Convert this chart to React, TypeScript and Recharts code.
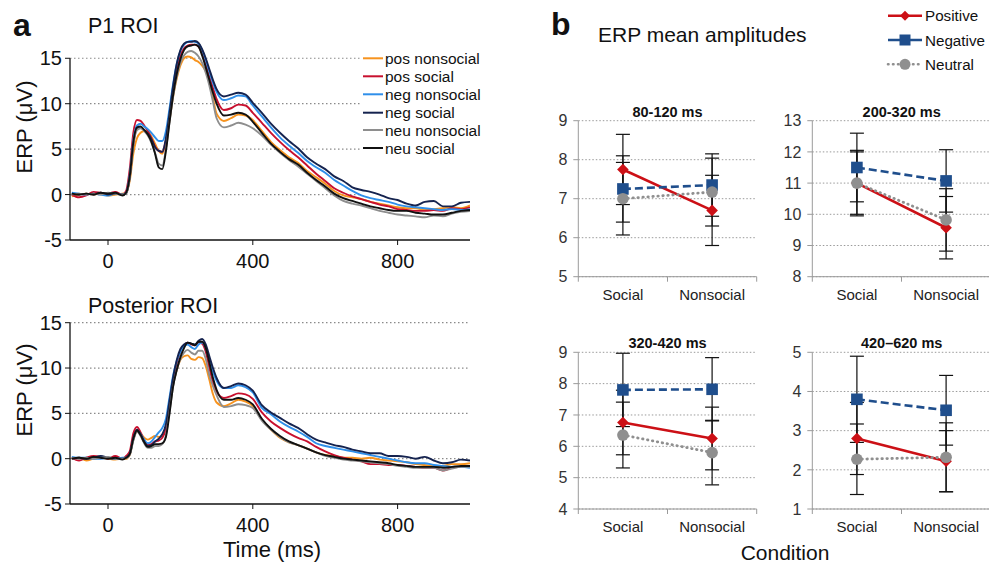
import React from 'react';
import { LineChart, Line, XAxis, YAxis, CartesianGrid, ReferenceLine, ErrorBar } from 'recharts';

const FONT = '"Liberation Sans", Arial, Helvetica, sans-serif';

// ---------------- Panel a: ERP waveforms ----------------
const times = [-100, -80, -60, -40, -20, 0, 20, 40, 50, 60, 70, 80, 90, 100, 110, 120, 130, 140, 150, 160, 170, 180, 190, 200, 210, 220, 230, 240, 250, 260, 270, 280, 290, 300, 320, 340, 360, 380, 400, 425, 450, 475, 500, 525, 550, 575, 600, 625, 650, 675, 700, 725, 750, 775, 800, 825, 850, 875, 900, 925, 950, 975, 1000];

// P1 ROI
const p1PosNonsocial = [-0.2, 0.0, 0.1, 0.0, 0.1, -0.1, 0.0, 0.1, 0.2,
  1.5, 4.5, 6.2, 6.8, 7.0, 6.9, 6.4, 5.6, 4.8, 4.5, 5.8, 8.2, 10.8, 12.8, 14.2, 15.0, 15.2, 15.1, 14.8, 14.6, 14.2, 13.6, 12.6, 10.6, 8.9,
  8.1, 8.4, 8.8, 8.7, 8.2,
  7.0, 5.8, 4.9, 4.1, 3.5, 2.6, 1.9, 1.2, 0.4, -0.1, -0.3, -0.5, -0.8, -1.0, -1.2, -1.4, -1.5, -1.5, -1.7, -1.6, -1.5, -1.4, -1.5, -1.2];
const p1PosSocial = [0.0, -0.3, -0.1, 0.3, 0.2, 0.1, 0.3, 0.0, 0.4,
  2.8, 6.8, 8.2, 8.1, 7.6, 7.0, 6.2, 5.3, 4.8, 4.7, 6.0, 8.6, 11.4, 13.8, 15.3, 16.1, 16.4, 16.5, 16.5, 16.3, 15.5, 14.3, 13.0, 11.7, 10.5,
  9.3, 9.5, 9.9, 9.8, 9.0,
  7.9, 6.8, 5.8, 4.9, 4.1, 3.2, 2.3, 1.5, 0.7, 0.2, -0.2, -0.5, -0.8, -1.1, -1.3, -1.6, -1.7, -1.8, -1.8, -1.7, -1.8, -1.5, -1.6, -1.4];
const p1NegNonsocial = [0.2, 0.1, 0.0, 0.1, 0.0, -0.1, 0.1, 0.0, 0.2,
  2.2, 6.0, 7.6, 7.8, 7.5, 7.2, 6.8, 6.3, 5.9, 5.9, 7.0, 9.5, 12.2, 14.4, 15.8, 16.5, 16.8, 16.9, 16.8, 16.6, 15.9, 14.8, 13.5, 12.3, 11.3,
  10.4, 10.6, 10.9, 10.8, 9.8,
  8.6, 7.4, 6.3, 5.4, 4.6, 3.7, 3.0, 2.4, 1.6, 1.0, 0.4, -0.1, -0.4, -0.6, -0.8, -1.1, -1.3, -1.4, -1.5, -1.6, -1.7, -1.6, -1.7, -1.6];
const p1NegSocial = [0.1, 0.0, 0.1, 0.0, 0.2, 0.0, 0.1, 0.0, 0.1,
  1.8, 5.5, 7.3, 7.4, 7.1, 6.7, 6.1, 5.2, 4.8, 4.7, 6.2, 9.0, 12.0, 14.4, 15.9, 16.6, 16.8, 16.8, 16.9, 16.7, 16.0, 15.0, 13.8, 12.6, 11.6,
  10.8, 11.0, 11.2, 11.0, 10.1,
  9.0, 7.8, 6.8, 5.9, 5.1, 4.1, 3.4, 2.8, 2.0, 1.5, 0.8, 0.5, 0.3, 0.0, -0.4, -0.6, -1.0, -1.2, -0.8, -0.7, -1.3, -1.3, -0.9, -0.8];
const p1NeuNonsocial = [0.0, 0.1, 0.0, 0.1, 0.0, 0.2, 0.1, 0.0, 0.1,
  1.8, 5.5, 7.1, 7.3, 7.0, 6.5, 5.7, 4.6, 3.4, 3.2, 5.0, 8.0, 10.8, 13.0, 14.5, 15.3, 15.7, 15.8, 15.6, 15.2, 14.5, 13.4, 12.0, 10.2, 8.4,
  7.4, 7.6, 7.9, 7.7, 7.3,
  6.5, 5.5, 4.6, 3.8, 3.1, 2.3, 1.5, 0.7, -0.1, -0.7, -1.0, -1.2, -1.5, -1.8, -2.0, -2.2, -2.3, -2.4, -2.5, -2.3, -2.4, -2.1, -1.9, -1.8];
const p1NeuSocial = [0.1, 0.0, 0.1, 0.0, 0.2, 0.1, 0.2, -0.1, 0.2,
  2.0, 5.8, 7.4, 7.5, 7.1, 6.6, 5.8, 4.5, 3.0, 2.8, 4.8, 8.0, 11.0, 13.3, 14.9, 15.9, 16.3, 16.4, 16.5, 16.3, 15.3, 14.0, 12.6, 11.2, 10.0,
  8.7, 8.8, 9.0, 8.8, 8.0,
  6.8, 5.6, 4.7, 3.9, 3.3, 2.4, 1.6, 0.9, 0.1, -0.4, -0.7, -1.0, -1.3, -1.5, -1.7, -1.8, -1.8, -2.0, -2.1, -2.2, -2.2, -2.0, -1.8, -1.7];

// Posterior ROI
const postPosNonsocial = [0.0, 0.1, -0.2, 0.0, 0.1, 0.0, -0.1, 0.0, 0.0,
  0.4, 2.1, 3.0, 2.8, 2.3, 2.1, 2.3, 2.5, 2.4, 2.6, 3.4, 5.6, 8.2, 9.8, 10.9, 11.3, 11.4, 11.0, 10.9, 11.2, 11.1, 10.2, 8.7, 7.1, 6.2,
  5.8, 6.1, 6.5, 6.3, 5.8,
  4.3, 3.2, 2.3, 1.8, 1.5, 1.1, 0.7, 0.4, 0.3, 0.1, 0.1, 0.0, 0.1, -0.1, -0.2, -0.3, -0.4, -0.6, -0.7, -0.8, -0.8, -0.6, -0.6, -0.5];
const postPosSocial = [0.1, -0.2, 0.1, 0.3, 0.2, 0.0, 0.3, 0.0, 0.3,
  0.8, 2.8, 3.5, 2.9, 2.0, 1.5, 1.6, 1.9, 2.0, 2.3, 3.3, 5.8, 8.6, 10.6, 11.8, 12.5, 12.8, 12.6, 12.5, 12.8, 12.7, 11.8, 10.0, 8.4, 7.4,
  6.7, 6.9, 7.2, 7.1, 6.6,
  5.1, 4.1, 3.4, 2.8, 2.3, 1.9, 1.3, 0.8, 0.4, 0.1, -0.1, -0.3, -0.6, -0.6, -0.7, -0.7, -0.8, -0.9, -1.0, -1.0, -1.3, -1.0, -0.9, -0.8];
const postNegNonsocial = [0.2, 0.1, 0.1, 0.0, 0.0, 0.1, 0.0, 0.1, 0.1,
  0.5, 2.1, 3.1, 2.7, 2.1, 1.7, 1.9, 2.4, 2.9, 3.4, 4.4, 6.8, 9.2, 10.8, 11.8, 12.4, 12.6, 12.3, 12.1, 12.6, 12.8, 12.2, 10.9, 9.6, 8.6,
  7.8, 7.8, 8.1, 7.9, 7.3,
  5.6, 4.9, 4.1, 3.5, 3.0, 2.4, 1.7, 1.4, 1.2, 1.0, 0.8, 0.6, 0.4, 0.2, 0.0, -0.2, -0.4, -0.5, -0.5, -0.7, -0.8, -0.9, -0.9, -1.0];
const postNegSocial = [0.0, 0.1, 0.0, 0.1, 0.3, 0.1, 0.0, 0.0, 0.1,
  0.5, 2.3, 3.2, 2.7, 1.9, 1.4, 1.5, 1.9, 2.2, 2.7, 3.8, 6.4, 9.0, 10.9, 12.1, 12.6, 12.8, 12.7, 12.6, 13.0, 13.2, 12.6, 11.3, 10.0, 8.9,
  7.8, 8.0, 8.3, 8.1, 7.5,
  5.9, 5.1, 4.5, 3.9, 3.4, 2.7, 2.1, 1.8, 1.5, 1.3, 1.0, 0.8, 0.6, 0.6, 0.3, 0.3, 0.2, 0.0, 0.2, -0.2, -0.5, -0.4, -0.1, -0.2];
const postNeuNonsocial = [0.1, 0.0, 0.1, 0.0, 0.1, 0.2, 0.0, 0.0, 0.1,
  0.4, 2.0, 3.0, 2.5, 1.7, 1.2, 1.2, 1.4, 1.4, 1.6, 2.6, 5.2, 8.0, 9.8, 11.0, 11.7, 12.0, 11.7, 11.5, 11.9, 11.9, 11.0, 9.2, 8.0, 7.0,
  5.7, 5.8, 6.0, 5.9, 5.6,
  4.2, 3.2, 2.4, 1.8, 1.5, 1.1, 0.7, 0.3, 0.1, -0.1, -0.2, -0.3, -0.4, -0.5, -0.6, -0.8, -0.9, -1.0, -1.0, -1.0, -1.3, -1.1, -0.9, -0.9];
const postNeuSocial = [0.0, 0.1, 0.0, 0.2, 0.1, 0.0, 0.1, -0.1, 0.1,
  0.5, 2.2, 3.1, 2.6, 1.8, 1.3, 1.4, 1.6, 1.6, 1.7, 2.4, 5.0, 8.0, 9.8, 11.2, 12.2, 12.8, 12.7, 12.5, 12.9, 12.9, 12.2, 10.6, 8.9, 7.6,
  6.5, 6.5, 6.7, 6.5, 6.0,
  4.4, 3.3, 2.5, 1.9, 1.5, 1.1, 0.7, 0.4, 0.2, 0.0, -0.1, -0.2, -0.3, -0.4, -0.5, -0.7, -0.8, -0.9, -0.9, -0.9, -1.0, -0.9, -0.8, -0.8];

const erpTicksX = [0, 400, 800];
const erpTicksY = [-5, 0, 5, 10, 15];
const erpGridY = [0, 5, 10, 15];

const SERIES = [
  { key: 'posNon', name: 'pos nonsocial', color: '#F7931E' },
  { key: 'posSoc', name: 'pos social', color: '#C8102E' },
  { key: 'negNon', name: 'neg nonsocial', color: '#2F8FEA' },
  { key: 'negSoc', name: 'neg social', color: '#15234F' },
  { key: 'neuNon', name: 'neu nonsocial', color: '#8E8E8E' },
  { key: 'neuSoc', name: 'neu social', color: '#111111' },
];

const p1Rows = times.map((t, i) => ({
  t,
  posNon: p1PosNonsocial[i], posSoc: p1PosSocial[i],
  negNon: p1NegNonsocial[i], negSoc: p1NegSocial[i],
  neuNon: p1NeuNonsocial[i], neuSoc: p1NeuSocial[i],
}));
const postRows = times.map((t, i) => ({
  t,
  posNon: postPosNonsocial[i], posSoc: postPosSocial[i],
  negNon: postNegNonsocial[i], negSoc: postNegSocial[i],
  neuNon: postNeuNonsocial[i], neuSoc: postNeuSocial[i],
}));

// ---------------- Panel b: mean amplitudes ----------------
const conditions = ['Social', 'Nonsocial'];

const w1Positive = [7.75, 6.7];   const w1PositiveErr = [0.9, 0.9];
const w1Negative = [7.25, 7.35];  const w1NegativeErr = [0.85, 0.8];
const w1Neutral = [7.0, 7.17];    const w1NeutralErr = [0.93, 0.87];

const w2Positive = [11.0, 9.57];  const w2PositiveErr = [1.05, 1.0];
const w2Negative = [11.5, 11.07]; const w2NegativeErr = [1.1, 1.0];
const w2Neutral = [11.0, 9.82];   const w2NeutralErr = [1.0, 1.0];

const w3Positive = [6.76, 6.25];  const w3PositiveErr = [1.03, 1.0];
const w3Negative = [7.8, 7.82];   const w3NegativeErr = [1.17, 1.01];
const w3Neutral = [6.36, 5.8];    const w3NeutralErr = [1.05, 1.03];

const w4Positive = [2.8, 2.22];   const w4PositiveErr = [0.92, 0.78];
const w4Negative = [3.8, 3.52];   const w4NegativeErr = [1.1, 0.89];
const w4Neutral = [2.27, 2.32];   const w4NeutralErr = [0.9, 0.88];

const POS_COLOR = '#CC1016';
const NEG_COLOR = '#1F4E8C';
const NEU_COLOR = '#8F8F8F';
const AMP_AXIS = '#9a9a9a';
const AMP_PLOT_W = 178.4;
const AMP_BAND = AMP_PLOT_W / conditions.length;

// ---------------- components ----------------
const X_MIN = -105;

function ErpPanel({ rows, yMax, gridEnd, height, marginTop, marginBottom }: any) {
  return (
    <LineChart width={480} height={height} data={rows}
      margin={{ top: marginTop, right: 10, bottom: marginBottom, left: 0 }}>
      <XAxis dataKey="t" type="number" domain={[X_MIN, 1000]} ticks={erpTicksX}
        axisLine={{ stroke: '#111', strokeWidth: 1.3 }} tickLine={{ stroke: '#111' }}
        tickSize={5} tickMargin={9} height={30}
        tick={{ fill: '#111', fontSize: 20 }} allowDataOverflow />
      <YAxis type="number" domain={[-5, yMax]} ticks={erpTicksY} axisLine={false}
        tickLine={{ stroke: '#111' }} tickSize={5} tickMargin={3} width={70}
        tick={{ fill: '#111', fontSize: 20 }} allowDataOverflow />
      {erpGridY.map((v) => (
        <ReferenceLine key={'g' + v} segment={[{ x: X_MIN, y: v }, { x: gridEnd, y: v }]}
          stroke="#8a8a8a" strokeDasharray="1.5 2.5" strokeWidth={1.2} />
      ))}
      <ReferenceLine segment={[{ x: X_MIN, y: -5 }, { x: X_MIN, y: 15 }]} stroke="#111" strokeWidth={1.3} />
      {SERIES.map((s) => (
        <Line key={s.key} dataKey={s.key} name={s.name} stroke={s.color} strokeWidth={1.9}
          dot={false} activeDot={false} type="monotone" isAnimationActive={false} />
      ))}
    </LineChart>
  );
}

const diamondDot = (props: any) => {
  const { cx, cy, index } = props;
  const r = 5.8;
  if (cx == null || cy == null) return <g key={'dd' + index} />;
  return <path key={'dd' + index} d={`M${cx},${cy - r}L${cx + r},${cy}L${cx},${cy + r}L${cx - r},${cy}Z`} fill={POS_COLOR} />;
};
const squareDot = (props: any) => {
  const { cx, cy, index } = props;
  const h = 5.8;
  if (cx == null || cy == null) return <g key={'sq' + index} />;
  return <rect key={'sq' + index} x={cx - h} y={cy - h} width={2 * h} height={2 * h} fill={NEG_COLOR} />;
};
const circleDot = (props: any) => {
  const { cx, cy, index } = props;
  if (cx == null || cy == null) return <g key={'ci' + index} />;
  return <circle key={'ci' + index} cx={cx} cy={cy} r={5.8} fill={NEU_COLOR} />;
};

const CondTick = (props: any) => {
  const { x, y, payload, index } = props;
  const half = AMP_BAND / 2;
  return (
    <g>
      <line x1={x - half} y1={y} x2={x - half} y2={y + 5} stroke={AMP_AXIS} />
      {index === conditions.length - 1 && <line x1={x + half} y1={y} x2={x + half} y2={y + 5} stroke={AMP_AXIS} />}
      <text x={x} y={y + 12.5} dy="0.71em" textAnchor="middle" fill="#222" fontSize={15}>{payload.value}</text>
    </g>
  );
};

function AmpPanel({ domain, ticks, pos, posErr, neg, negErr, neu, neuErr, marginTop, marginBottom }: any) {
  const rows = conditions.map((c, i) => ({
    cond: c, pos: pos[i], posErr: posErr[i], neg: neg[i], negErr: negErr[i], neu: neu[i], neuErr: neuErr[i],
  }));
  return (
    <LineChart width={230} height={210} data={rows}
      margin={{ top: marginTop, right: 230 - 38.3 - AMP_PLOT_W, bottom: marginBottom, left: 0 }}>
      <CartesianGrid vertical={false} stroke="#9a9a9a" strokeDasharray="1.5 2" />
      <XAxis dataKey="cond" type="category" scale="band" axisLine={{ stroke: AMP_AXIS }} tickLine={false}
        tickSize={0} tickMargin={0} height={25} interval={0}
        tick={(p: any) => <CondTick {...p} />} />
      <YAxis type="number" domain={domain} ticks={ticks} axisLine={{ stroke: AMP_AXIS }}
        tickLine={{ stroke: AMP_AXIS }} tickSize={5} tickMargin={6} width={38.3}
        tick={{ fill: '#333', fontSize: 16 }} />
      <Line dataKey="pos" stroke={POS_COLOR} strokeWidth={2.6} dot={diamondDot} activeDot={false} isAnimationActive={false}>
        <ErrorBar dataKey="posErr" width={7} stroke="#111" strokeWidth={1.2} direction="y" />
      </Line>
      <Line dataKey="neg" stroke={NEG_COLOR} strokeWidth={2.6} strokeDasharray="8 4" dot={squareDot} activeDot={false} isAnimationActive={false}>
        <ErrorBar dataKey="negErr" width={7} stroke="#111" strokeWidth={1.2} direction="y" />
      </Line>
      <Line dataKey="neu" stroke={NEU_COLOR} strokeWidth={2.8} strokeDasharray="0.5 4.5" strokeLinecap="round" dot={circleDot} activeDot={false} isAnimationActive={false}>
        <ErrorBar dataKey="neuErr" width={7} stroke="#111" strokeWidth={1.2} direction="y" />
      </Line>
    </LineChart>
  );
}

const ampLegend = [
  { name: 'Positive', color: POS_COLOR, dash: undefined as any, marker: 'diamond', y: 15.7 },
  { name: 'Negative', color: NEG_COLOR, dash: undefined as any, marker: 'square', y: 40 },
  { name: 'Neutral', color: NEU_COLOR, dash: '0.5 4.5', marker: 'circle', y: 64.3 },
];
const erpLegendY = [58.3, 76.3, 94.3, 112.7, 130, 148];

function Overlay() {
  return (
    <svg width={989} height={566} style={{ position: 'absolute', left: 0, top: 0, pointerEvents: 'none' }}>
      <g fontFamily={FONT} fill="#111">
        <text x={13} y={36} fontSize={32} fontWeight="bold">a</text>
        <text x={88} y={33} fontSize={21.5}>P1 ROI</text>
        <text x={88} y={313} fontSize={21.5}>Posterior ROI</text>
        <text transform="translate(32,127) rotate(-90)" textAnchor="middle" fontSize={22}>ERP (μV)</text>
        <text transform="translate(32,390) rotate(-90)" textAnchor="middle" fontSize={22}>ERP (μV)</text>
        <text x={272} y={557} textAnchor="middle" fontSize={22}>Time (ms)</text>
        {SERIES.map((s, i) => (
          <g key={s.key}>
            <line x1={363} x2={383} y1={erpLegendY[i]} y2={erpLegendY[i]} stroke={s.color} strokeWidth={2} />
            <text x={385} y={erpLegendY[i] + 5.5} fontSize={15.5}>{s.name}</text>
          </g>
        ))}
        <text x={551} y={35} fontSize={32} fontWeight="bold">b</text>
        <text x={598} y={42} fontSize={21}>ERP mean amplitudes</text>
        {ampLegend.map((l) => (
          <g key={l.name}>
            <line x1={888} x2={922} y1={l.y} y2={l.y} stroke={l.color} strokeWidth={2.6}
              strokeDasharray={l.dash} strokeLinecap={l.dash ? 'round' : 'butt'} />
            {l.marker === 'diamond' && <path d={`M905,${l.y - 5}L910,${l.y}L905,${l.y + 5}L900,${l.y}Z`} fill={l.color} />}
            {l.marker === 'square' && <rect x={899.5} y={l.y - 5.5} width={11} height={11} fill={l.color} />}
            {l.marker === 'circle' && <circle cx={905} cy={l.y} r={5.5} fill={l.color} />}
            <text x={925} y={l.y + 5.5} fontSize={15.2}>{l.name}</text>
          </g>
        ))}
        <text x={667.5} y={117} textAnchor="middle" fontSize={14.5} fontWeight="bold">80-120 ms</text>
        <text x={901.7} y={117} textAnchor="middle" fontSize={14.5} fontWeight="bold">200-320 ms</text>
        <text x={667.5} y={348} textAnchor="middle" fontSize={14.5} fontWeight="bold">320-420 ms</text>
        <text x={901.7} y={348} textAnchor="middle" fontSize={14.5} fontWeight="bold">420–620 ms</text>
        <text x={785} y={560} textAnchor="middle" fontSize={21}>Condition</text>
      </g>
    </svg>
  );
}

export default function App() {
  return (
    <div style={{ position: 'absolute', left: 0, top: 0, width: 989, height: 566, overflow: 'hidden', background: '#fff', fontFamily: FONT }}>
      <div style={{ position: 'absolute', left: 0, top: 0 }}>
        <ErpPanel rows={p1Rows} yMax={17} gridEnd={700} height={280} marginTop={40.1} marginBottom={10} />
      </div>
      <div style={{ position: 'absolute', left: 0, top: 280 }}>
        <ErpPanel rows={postRows} yMax={15} gridEnd={1000} height={286} marginTop={42.7} marginBottom={32} />
      </div>
      <div style={{ position: 'absolute', left: 540, top: 100 }}>
        <AmpPanel domain={[5, 9]} ticks={[5, 6, 7, 8, 9]} pos={w1Positive} posErr={w1PositiveErr}
          neg={w1Negative} negErr={w1NegativeErr} neu={w1Neutral} neuErr={w1NeutralErr} marginTop={20.7} marginBottom={8.3} />
      </div>
      <div style={{ position: 'absolute', left: 774.4, top: 100 }}>
        <AmpPanel domain={[8, 13]} ticks={[8, 9, 10, 11, 12, 13]} pos={w2Positive} posErr={w2PositiveErr}
          neg={w2Negative} negErr={w2NegativeErr} neu={w2Neutral} neuErr={w2NeutralErr} marginTop={20.7} marginBottom={8.3} />
      </div>
      <div style={{ position: 'absolute', left: 540, top: 330 }}>
        <AmpPanel domain={[4, 9]} ticks={[4, 5, 6, 7, 8, 9]} pos={w3Positive} posErr={w3PositiveErr}
          neg={w3Negative} negErr={w3NegativeErr} neu={w3Neutral} neuErr={w3NeutralErr} marginTop={22.3} marginBottom={6} />
      </div>
      <div style={{ position: 'absolute', left: 774.4, top: 330 }}>
        <AmpPanel domain={[1, 5]} ticks={[1, 2, 3, 4, 5]} pos={w4Positive} posErr={w4PositiveErr}
          neg={w4Negative} negErr={w4NegativeErr} neu={w4Neutral} neuErr={w4NeutralErr} marginTop={22.3} marginBottom={6} />
      </div>
      <Overlay />
    </div>
  );
}
